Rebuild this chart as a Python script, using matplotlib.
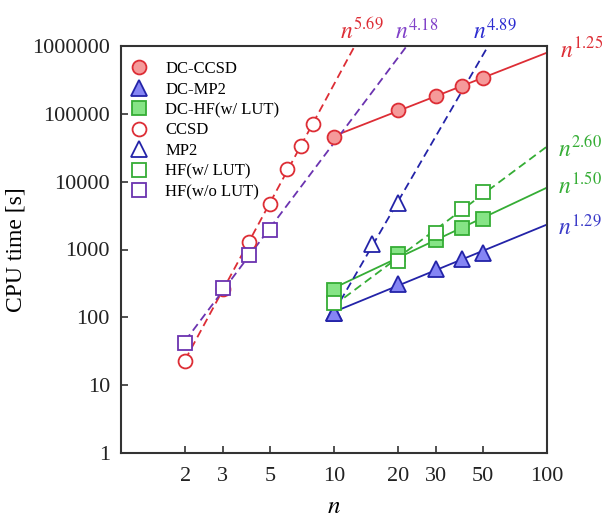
import numpy as np
import matplotlib
matplotlib.use("Agg")
import matplotlib.pyplot as plt
from matplotlib.ticker import FixedLocator, NullLocator, FixedFormatter

# ---------------- data ----------------
n_dc = [10, 20, 30, 40, 50]
t_dc_ccsd = [46300, 112000, 186000, 259000, 332000]
t_dc_mp2 = [115, 311, 512, 727, 900]
t_dc_hf = [254, 847, 1390, 2060, 2830]

n_ccsd = [2, 3, 4, 5, 6, 7, 8]
t_ccsd = [22.7, 265, 1310, 4660, 15400, 33700, 71200]

n_mp2 = [10, 15, 20]
t_mp2 = [115, 1210, 4820]

n_hf_lut = [10, 20, 30, 40, 50]
t_hf_lut = [165, 679, 1780, 3970, 7150]

n_hf_nolut = [2, 3, 4, 5]
t_hf_nolut = [42.4, 269, 834, 1945]

xticks = [2, 3, 5, 10, 20, 30, 50, 100]
yticks = [1, 10, 100, 1000, 10000, 100000, 1000000]

exp_labels = ["5.69", "4.18", "4.89", "1.25", "2.60", "1.50", "1.29"]

# ---------------- style ----------------
RED = "#dd2d35"
RED_F = "#f59a9a"
BLUE = "#2323a8"
BLUE_F = "#8585f4"
GREEN = "#35ad35"
GREEN_F = "#86e486"
PURPLE = "#6b33b0"

plt.rcParams["font.family"] = ["Liberation Serif", "DejaVu Serif"]
plt.rcParams["mathtext.fontset"] = "stix"

fig = plt.figure(figsize=(6.02, 5.18), dpi=100)
ax = fig.add_axes([121 / 602, 1 - 453 / 518, 426 / 602, 407 / 518])
ax.set_xscale("log")
ax.set_yscale("log")
ax.set_xlim(1, 100)
ax.set_ylim(1, 1e6)


def fit_line(n, t, color, dashed):
    m, b = np.polyfit(np.log10(n), np.log10(t), 1)
    xs = np.logspace(np.log10(n[0]), 2, 300)
    ys = 10 ** (b + m * np.log10(xs))
    ln, = ax.plot(xs, ys, color=color, lw=1.3, zorder=2)
    if dashed:
        ln.set_dashes((4.5, 2.6))


fit_line(n_dc, t_dc_ccsd, RED, False)
fit_line(n_dc, t_dc_mp2, BLUE, False)
fit_line(n_dc, t_dc_hf, GREEN, False)
fit_line(n_ccsd, t_ccsd, RED, True)
fit_line(n_mp2, t_mp2, BLUE, True)
fit_line(n_hf_lut, t_hf_lut, GREEN, True)
fit_line(n_hf_nolut, t_hf_nolut, PURPLE, True)

ms = 10
mew = 1.3
h1, = ax.plot(n_dc, t_dc_ccsd, "o", ms=ms, mfc=RED_F, mec=RED, mew=mew, zorder=3, label="DC-CCSD")
h2, = ax.plot(n_dc, t_dc_mp2, "^", ms=ms + 1, mfc=BLUE_F, mec=BLUE, mew=mew, zorder=2.9, label="DC-MP2")
h3, = ax.plot(n_dc, t_dc_hf, "s", ms=ms - 0.5, mfc=GREEN_F, mec=GREEN, mew=mew, zorder=2.8, label="DC-HF(w/ LUT)")
h4, = ax.plot(n_ccsd, t_ccsd, "o", ms=ms, mfc="white", mec=RED, mew=mew, zorder=3, label="CCSD")
h5, = ax.plot(n_mp2, t_mp2, "^", ms=ms + 1, mfc="white", mec=BLUE, mew=mew, zorder=2.7, label="MP2")
h6, = ax.plot(n_hf_lut, t_hf_lut, "s", ms=ms - 0.5, mfc="white", mec=GREEN, mew=mew, zorder=3.1, label="HF(w/ LUT)")
h7, = ax.plot(n_hf_nolut, t_hf_nolut, "s", ms=ms - 0.5, mfc="white", mec=PURPLE, mew=mew, zorder=3.1, label="HF(w/o LUT)")

leg = ax.legend(handles=[h1, h2, h3, h4, h5, h6, h7], loc="upper left",
                bbox_to_anchor=(0.0, 1.0 - 5 / 407), frameon=False, fontsize=12,
                handlelength=1.0, handletextpad=1.05, labelspacing=0.27,
                borderaxespad=0.3, borderpad=0.3, numpoints=1)

# ticks
ax.xaxis.set_major_locator(FixedLocator(xticks))
ax.xaxis.set_major_formatter(FixedFormatter([str(v) for v in xticks]))
ax.xaxis.set_minor_locator(NullLocator())
ax.yaxis.set_major_locator(FixedLocator(yticks))
ax.yaxis.set_major_formatter(FixedFormatter([str(v) for v in yticks]))
ax.yaxis.set_minor_locator(NullLocator())
ax.tick_params(axis="both", direction="in", length=5, width=1.1, labelsize=16,
               colors="#222222", top=False, right=False)
ax.tick_params(axis="x", pad=10)
ax.tick_params(axis="y", pad=8)
for s in ax.spines.values():
    s.set_color("#333333")
    s.set_linewidth(1.5)

ax.set_xlabel("$n$", fontsize=18, labelpad=7)
ax.set_ylabel("CPU time [s]", fontsize=17, labelpad=4)

# exponent labels (pixel positions of left edge / baseline)
lab_pos = [(340, 39), (395, 39), (473, 39), (560, 57), (558, 157), (558, 193), (558, 235)]
lab_col = [RED, "#8040c8", "#2b2bd0", RED, GREEN, GREEN, "#3a3ac8"]
for txt, (px, py), c in zip(exp_labels, lab_pos, lab_col):
    fig.text(px / 602, 1 - py / 518, r"$n^{%s}$" % txt, color=c, fontsize=17,
             ha="left", va="baseline")

fig.savefig("out.png", dpi=100)
